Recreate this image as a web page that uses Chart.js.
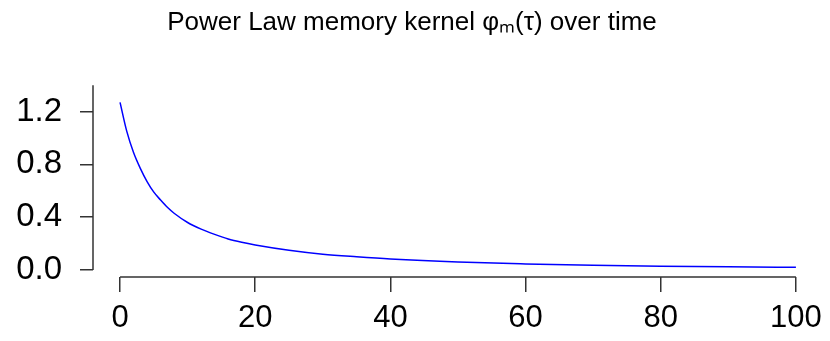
<!DOCTYPE html>
<html>
<head>
<meta charset="utf-8">
<script src="https://cdn.jsdelivr.net/npm/chart.js@4"></script>
<style>
  html, body { margin: 0; padding: 0; background: #fff; }
</style>
</head>
<body>
<canvas id="kernelChart" width="830" height="341"></canvas>
<script>
// Values
const tau = [0, 1, 2, 3, 4, 5, 6, 7, 8, 10, 12, 14, 16, 18, 20, 25, 30, 35, 40, 50, 60, 70, 80, 90, 100];
const phi = [1.27, 1.05, 0.89, 0.77, 0.67, 0.59, 0.53, 0.475, 0.43, 0.36, 0.31, 0.27, 0.235, 0.21, 0.19, 0.15, 0.12, 0.10, 0.083, 0.060, 0.046, 0.036, 0.029, 0.024, 0.020];

const xTicks = [0, 20, 40, 60, 80, 100];
const yTicks = [0, 0.2, 0.4, 0.6, 0.8, 1.0, 1.2, 1.4];
const yLabelled = [0, 0.4, 0.8, 1.2];

const axisColor = '#333';
const fontFamily = "'Liberation Sans', Arial, Helvetica, sans-serif";

// draws the detached R-style axis lines, only across the tick range
const axisLines = {
    id: 'axisLines',
    afterDraw(chart) {
        const { ctx, chartArea, scales: { x, y } } = chart;
        ctx.save();
        ctx.strokeStyle = axisColor;
        ctx.lineWidth = 1.5;
        ctx.beginPath();
        ctx.moveTo(x.getPixelForValue(xTicks[0]), chartArea.bottom);
        ctx.lineTo(x.getPixelForValue(xTicks[xTicks.length - 1]), chartArea.bottom);
        ctx.moveTo(chartArea.left, y.getPixelForValue(yTicks[0]));
        ctx.lineTo(chartArea.left, y.getPixelForValue(yTicks[yTicks.length - 1]));
        ctx.stroke();
        ctx.restore();
    }
};

Chart.defaults.font.family = fontFamily;
Chart.defaults.color = '#000';

new Chart(document.getElementById('kernelChart'), {
    type: 'line',
    data: {
        datasets: [{
            data: tau.map((t, i) => ({ x: t, y: phi[i] })),
            borderColor: '#0000ff',
            borderWidth: 1.5,
            pointRadius: 0,
            cubicInterpolationMode: 'monotone',
            fill: false
        }]
    },
    options: {
        responsive: false,
        animation: false,
        devicePixelRatio: 1,
        layout: { padding: { left: 0, right: 6, top: 0, bottom: 0 } },
        plugins: {
            legend: { display: false },
            tooltip: { enabled: false },
            title: {
                display: true,
                text: 'Power Law memory kernel φₘ(τ) over time',
                font: { size: 26, weight: 'normal' },
                color: '#000',
                padding: { top: 7, bottom: 47 }
            }
        },
        scales: {
            x: {
                type: 'linear',
                min: -4,
                max: 104,
                afterBuildTicks: scale => { scale.ticks = xTicks.map(v => ({ value: v })); },
                afterFit: scale => { scale.height = 64; },
                border: { display: false },
                grid: { drawOnChartArea: false, tickLength: 15, color: axisColor, lineWidth: 1.5 },
                ticks: { font: { size: 31 }, padding: 8, maxRotation: 0, callback: v => String(v) }
            },
            y: {
                type: 'linear',
                min: -0.053,
                max: 1.4,
                afterBuildTicks: scale => { scale.ticks = yTicks.map(v => ({ value: v })); },
                afterFit: scale => { scale.width = 93; },
                border: { display: false },
                grid: { drawOnChartArea: false, tickLength: 13, color: axisColor, lineWidth: 1.5 },
                ticks: {
                    font: { size: 33 },
                    padding: 18,
                    callback: v => yLabelled.some(l => Math.abs(l - v) < 1e-6) ? v.toFixed(1) : ''
                }
            }
        }
    },
    plugins: [axisLines]
});
</script>
</body>
</html>
